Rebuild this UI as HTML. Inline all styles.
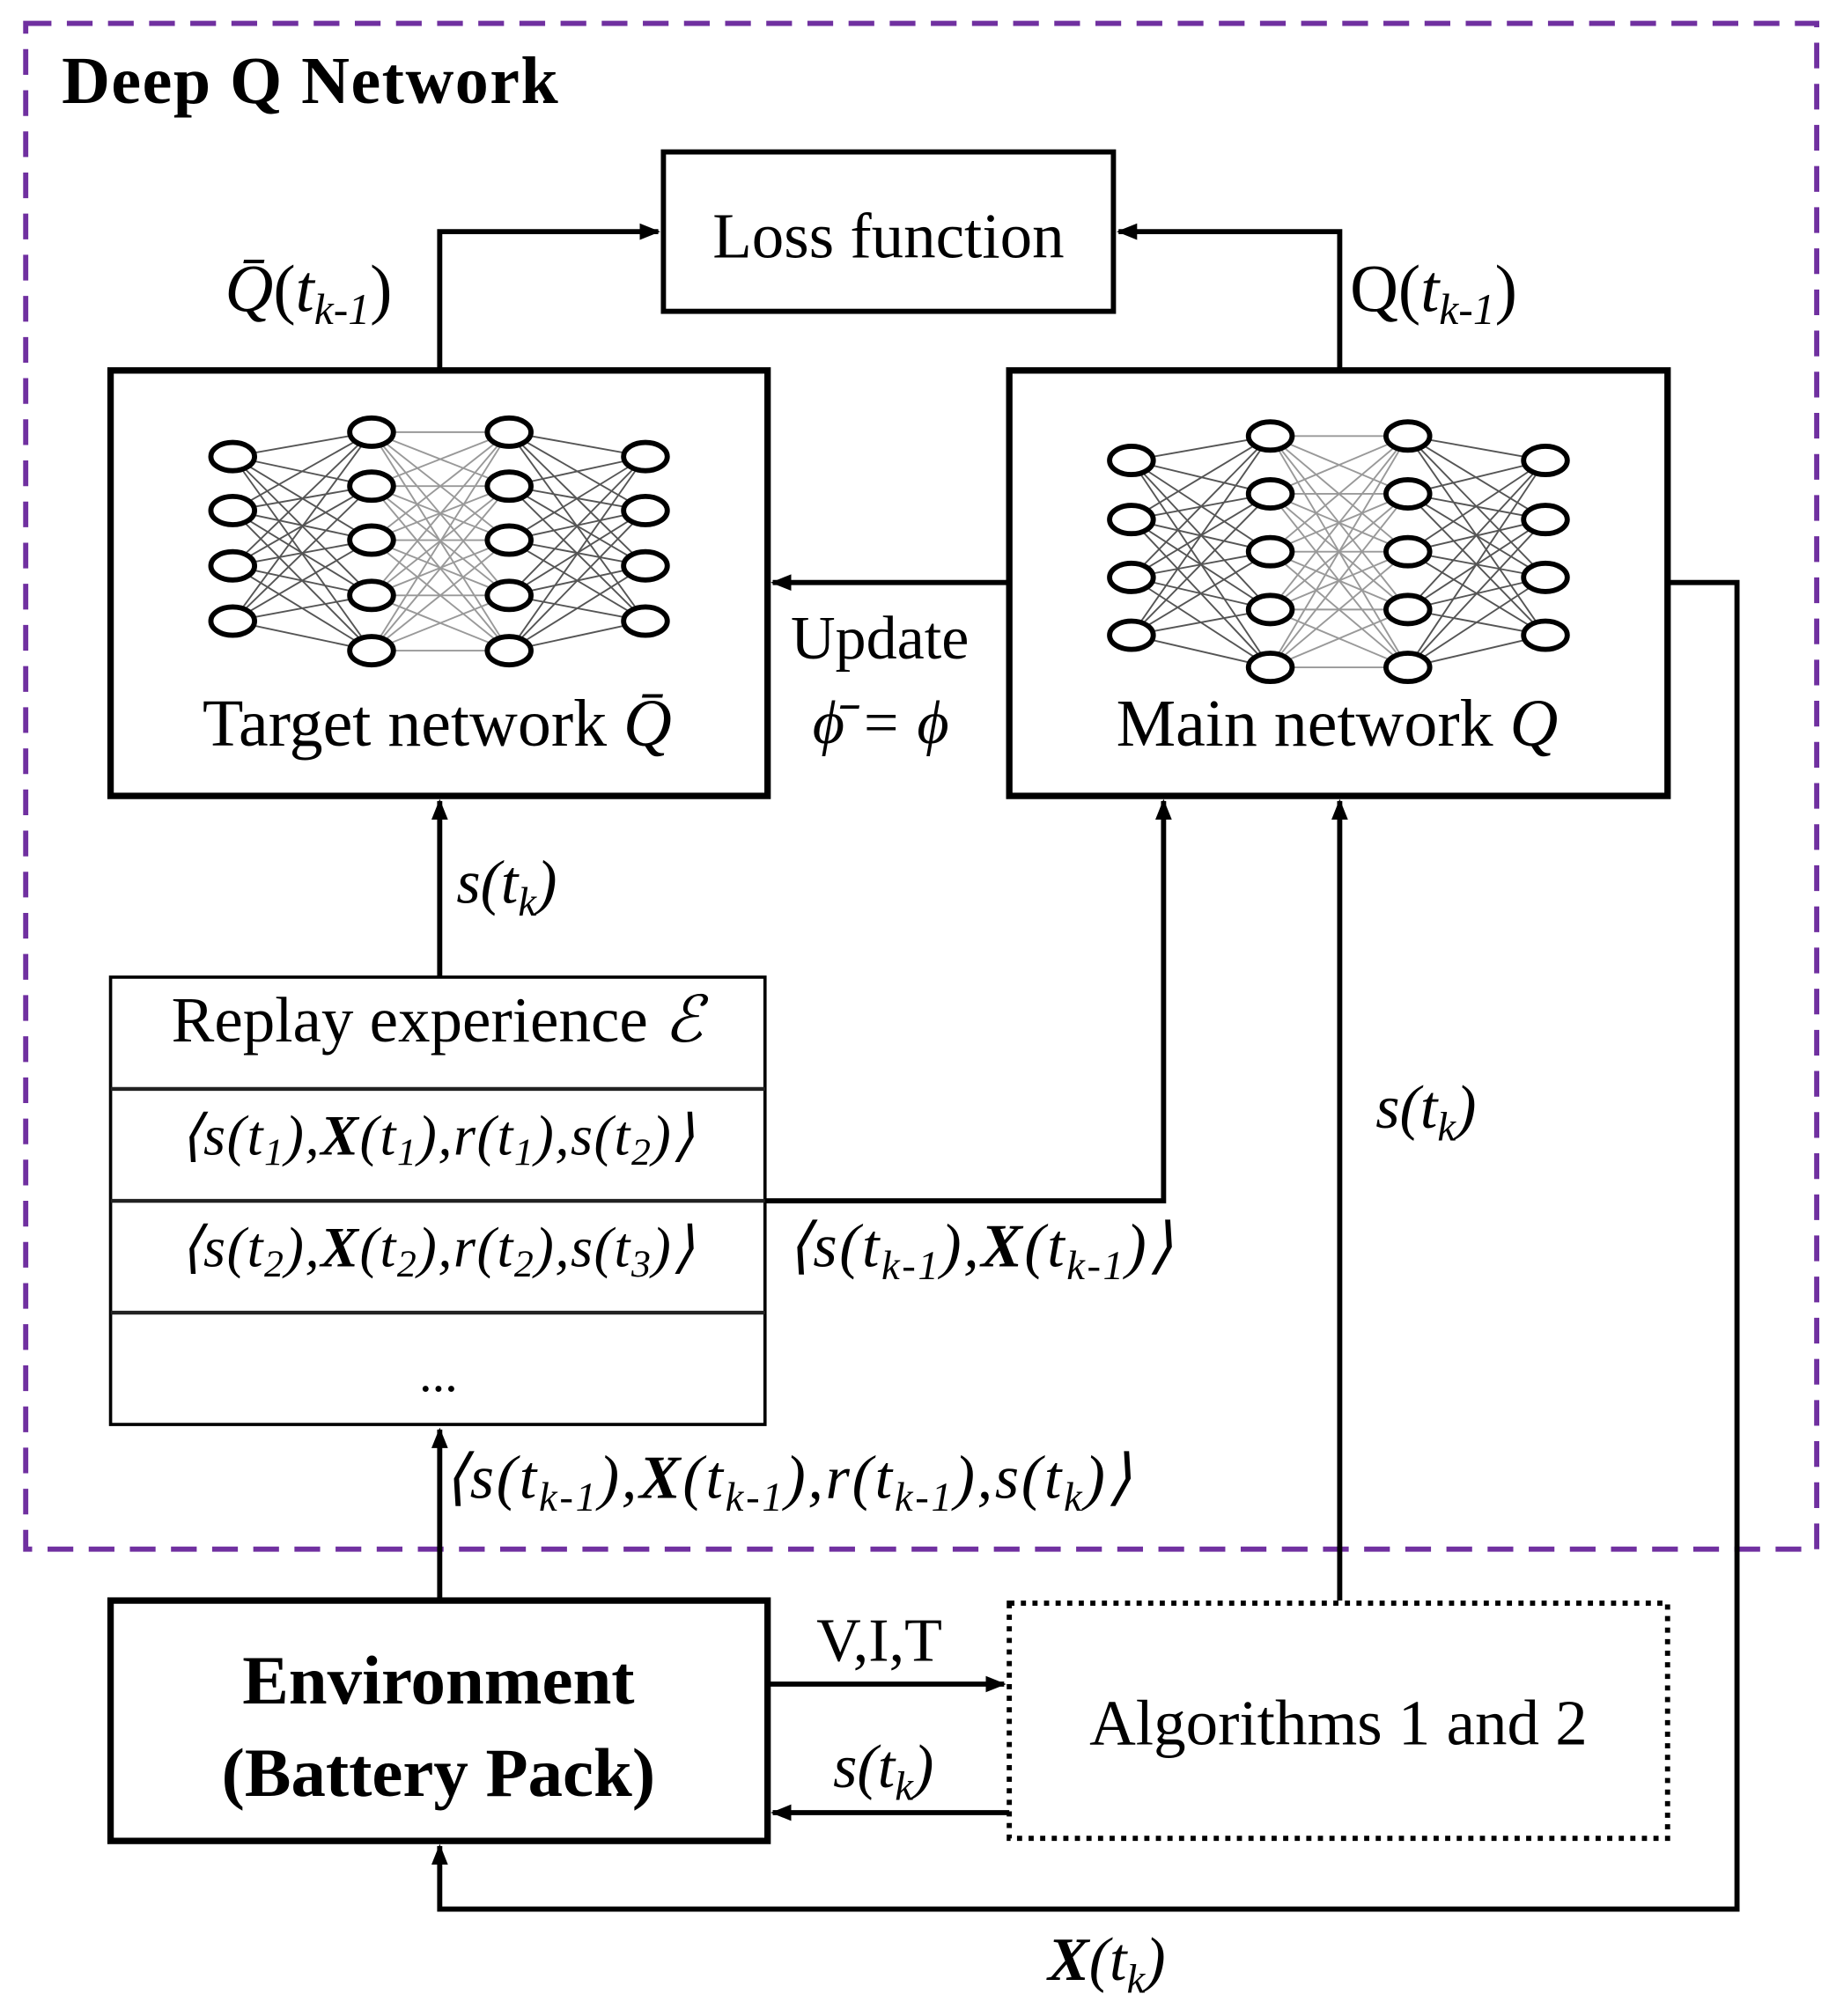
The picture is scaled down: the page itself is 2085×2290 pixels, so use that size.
<!DOCTYPE html>
<html><head><meta charset="utf-8"><style>
html,body{margin:0;padding:0;background:#fff}
svg{display:block}
text{font-family:"Liberation Serif",serif;fill:#000}
.it{font-style:italic}
</style></head><body>
<svg id="s" width="2085" height="2290" viewBox="0 0 1428 1568" xmlns="http://www.w3.org/2000/svg">
<defs>
<marker id="a" viewBox="0 0 10 10" refX="9" refY="5" markerWidth="4" markerHeight="4" orient="auto-start-reverse" markerUnits="strokeWidth"><path d="M0,1 L10,5 L0,9 z" fill="#000"/></marker>
</defs>
<rect x="20" y="18" width="1393" height="1187" fill="none" stroke="#7030A0" stroke-width="4" stroke-dasharray="20 12"/>
<text x="48" y="80" font-size="52" font-weight="bold" textLength="386">Deep Q Network</text>

<rect x="516" y="118" width="350" height="124" fill="none" stroke="#000" stroke-width="4"/>
<text x="691" y="200" font-size="50" text-anchor="middle">Loss function</text>

<rect x="86" y="288" width="511" height="331" fill="none" stroke="#000" stroke-width="5"/>
<rect x="785" y="288" width="512" height="331" fill="none" stroke="#000" stroke-width="5"/>
<g id="nets"></g>
<text x="340" y="580" font-size="52" text-anchor="middle">Target network <tspan class="it">Q̄</tspan></text>
<text x="1040" y="580" font-size="52" text-anchor="middle">Main network <tspan class="it">Q</tspan></text>

<g fill="none" stroke="#000" stroke-width="4">
<polyline points="342,288 342,180 512,180" marker-end="url(#a)"/>
<polyline points="1042,288 1042,180 870,180" marker-end="url(#a)"/>
<line x1="785" y1="453" x2="601" y2="453" marker-end="url(#a)"/>
<line x1="342" y1="760" x2="342" y2="623" marker-end="url(#a)"/>
<polyline points="595,934 905,934 905,623" marker-end="url(#a)"/>
<line x1="1042" y1="1245" x2="1042" y2="623" marker-end="url(#a)"/>
<polyline points="1297,453 1351,453 1351,1485 342,1485 342,1436" marker-end="url(#a)"/>
<line x1="342" y1="1245" x2="342" y2="1112" marker-end="url(#a)"/>
<line x1="597" y1="1310" x2="781" y2="1310" marker-end="url(#a)"/>
<line x1="785" y1="1410" x2="601" y2="1410" marker-end="url(#a)"/>
</g>

<text x="175" y="242" font-size="52"><tspan class="it">Q̄</tspan>(<tspan class="it">t<tspan font-size="34" dy="10">k-1</tspan></tspan><tspan dy="-10">)</tspan></text>
<text x="1050" y="242" font-size="52">Q(<tspan class="it">t<tspan font-size="34" dy="10">k-1</tspan></tspan><tspan dy="-10">)</tspan></text>
<text x="615" y="512" font-size="48">Update</text>
<text x="632" y="578" font-size="48" class="it">ϕ̄ = ϕ</text>

<text x="355" y="702" font-size="48" class="it">s(t<tspan font-size="32" dy="10">k</tspan><tspan dy="-10">)</tspan></text>
<text x="1070" y="877" font-size="48" class="it">s(t<tspan font-size="32" dy="10">k</tspan><tspan dy="-10">)</tspan></text>

<rect x="86" y="760" width="509" height="348" fill="none" stroke="#000" stroke-width="2.5"/>
<line x1="86" y1="847" x2="595" y2="847" stroke="#222" stroke-width="3"/>
<line x1="86" y1="934" x2="595" y2="934" stroke="#222" stroke-width="3"/>
<line x1="86" y1="1021" x2="595" y2="1021" stroke="#222" stroke-width="3"/>
<text x="340" y="810" font-size="50" text-anchor="middle">Replay experience <tspan class="it">ℰ</tspan></text>
<text x="340" y="898" font-size="44" text-anchor="middle" class="it" textLength="400">⟨s(t<tspan font-size="30" dy="8">1</tspan><tspan dy="-8">),</tspan><tspan font-weight="bold">X</tspan>(t<tspan font-size="30" dy="8">1</tspan><tspan dy="-8">),r(t</tspan><tspan font-size="30" dy="8">1</tspan><tspan dy="-8">),s(t</tspan><tspan font-size="30" dy="8">2</tspan><tspan dy="-8">)⟩</tspan></text>
<text x="340" y="985" font-size="44" text-anchor="middle" class="it" textLength="400">⟨s(t<tspan font-size="30" dy="8">2</tspan><tspan dy="-8">),</tspan><tspan font-weight="bold">X</tspan>(t<tspan font-size="30" dy="8">2</tspan><tspan dy="-8">),r(t</tspan><tspan font-size="30" dy="8">2</tspan><tspan dy="-8">),s(t</tspan><tspan font-size="30" dy="8">3</tspan><tspan dy="-8">)⟩</tspan></text>
<text x="341" y="1082" font-size="40" text-anchor="middle">...</text>

<text x="612" y="985" font-size="48" class="it" textLength="300">⟨s(t<tspan font-size="32" dy="10">k-1</tspan><tspan dy="-10">),</tspan><tspan font-weight="bold">X</tspan>(t<tspan font-size="32" dy="10">k-1</tspan><tspan dy="-10">)⟩</tspan></text>
<text x="345" y="1165" font-size="48" class="it" textLength="535">⟨s(t<tspan font-size="32" dy="10">k-1</tspan><tspan dy="-10">),</tspan><tspan font-weight="bold">X</tspan>(t<tspan font-size="32" dy="10">k-1</tspan><tspan dy="-10">),r(t</tspan><tspan font-size="32" dy="10">k-1</tspan><tspan dy="-10">),s(t</tspan><tspan font-size="32" dy="10">k</tspan><tspan dy="-10">)⟩</tspan></text>

<rect x="86" y="1245" width="511" height="187" fill="none" stroke="#000" stroke-width="5"/>
<text x="341" y="1325" font-size="54" font-weight="bold" text-anchor="middle">Environment</text>
<text x="341" y="1397" font-size="54" font-weight="bold" text-anchor="middle">(Battery Pack)</text>

<rect x="785" y="1247" width="512" height="183" fill="none" stroke="#000" stroke-width="4" stroke-dasharray="4 5"/>
<text x="1041" y="1357" font-size="50" text-anchor="middle">Algorithms 1 and 2</text>
<text x="635" y="1292" font-size="48">V,I,T</text>
<text x="648" y="1390" font-size="48" class="it">s(t<tspan font-size="32" dy="10">k</tspan><tspan dy="-10">)</tspan></text>
<text x="815" y="1540" font-size="48" class="it"><tspan font-weight="bold">X</tspan>(t<tspan font-size="32" dy="10">k</tspan><tspan dy="-10">)</tspan></text>
</svg>
<script>
var g=document.getElementById("nets");
function net(xs,y4,y5){
 var cols=[y4,y5,y5,y4],h="";
 for(var c=0;c<3;c++)for(var i=0;i<cols[c].length;i++)for(var j=0;j<cols[c+1].length;j++){
  var col=(c==1)?"#999":"#555";
  h+='<line x1="'+xs[c]+'" y1="'+cols[c][i]+'" x2="'+xs[c+1]+'" y2="'+cols[c+1][j]+'" stroke="'+col+'" stroke-width="1.3"/>';}
 for(var c=0;c<4;c++)for(var i=0;i<cols[c].length;i++)
  h+='<ellipse cx="'+xs[c]+'" cy="'+cols[c][i]+'" rx="17" ry="11" fill="#fff" stroke="#000" stroke-width="4"/>';
 return h;}
g.innerHTML=net([181,289,396,502],[355,397,440,483],[336,378,420,463,506])+
 net([880,988,1095,1202],[358,404,449,494],[339,384,429,474,519]);
</script>
</body></html>
